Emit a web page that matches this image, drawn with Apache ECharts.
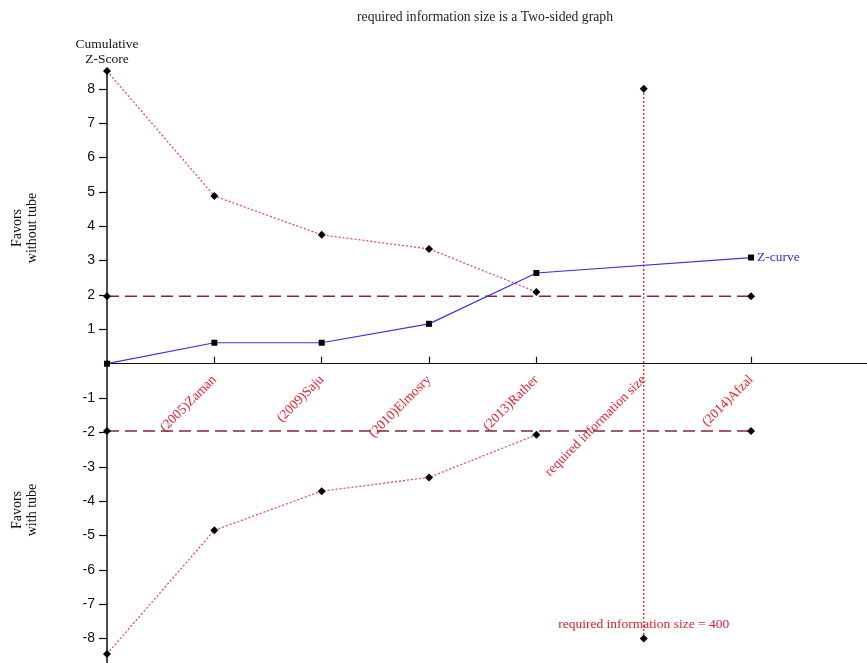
<!DOCTYPE html>
<html>
<head>
<meta charset="utf-8">
<title>Trial sequential analysis</title>
<script src="https://cdn.jsdelivr.net/npm/echarts@6/dist/echarts.min.js"></script>
<style>
  html, body { margin: 0; padding: 0; background: #fff; }
  #chart { width: 867px; height: 663px; }
</style>
</head>
<body>
<div id="chart"></div>
<script>
// Study labels along the x axis (position index 1..6)
const xLabels = ['(2005)Zaman', '(2009)Saju', '(2010)Elmosry', '(2013)Rather', 'required information size', '(2014)Afzal'];
const xLabelPos = [1, 2, 3, 4, 5, 6];
const xTickPos = [1, 2, 3, 4, 6];

// Cumulative Z-curve
const zPos = [0, 1, 2, 3, 4, 6];
const zCurve = [0, 0.61, 0.61, 1.16, 2.64, 3.09];

// Monitoring boundaries
const boundPos = [0, 1, 2, 3, 4];
const upperBound = [8.52, 4.88, 3.75, 3.34, 2.09];
const lowerBound = [-8.45, -4.85, -3.71, -3.31, -2.07];

// Conventional significance lines
const convPos = [0, 6];
const conventional = 1.96;

// Required information size
const risPos = 5;
const risZ = [8, -8];
const risValue = 400;

// Y tick labels
const yTicks = [-8, -7, -6, -5, -4, -3, -2, -1, 1, 2, 3, 4, 5, 6, 7, 8];

const yMin = -8.8, yMax = 8.52;
const gridTop = 71, gridHeight = 595;

const serif = '"Liberation Serif", "DejaVu Serif", serif';
const sans = '"Liberation Sans", Arial, sans-serif';

const pairs = (xs, ys) => xs.map((x, i) => [x, ys[i]]);

const zData = pairs(zPos, zCurve).map((p, i, arr) => i === arr.length - 1
  ? { value: p, label: { show: true, position: 'right', distance: 3, formatter: 'Z-curve', color: '#2f2fd6', fontFamily: serif, fontSize: 13.5 } }
  : p);

const risData = [
  [risPos, risZ[0]],
  { value: [risPos, risZ[1]], label: { show: true, position: 'top', distance: 3, formatter: 'required information size = ' + risValue, color: '#d8202a', fontFamily: serif, fontSize: 13.5 } }
];

// distance from the grid's bottom edge up to the zero line, so the x axis crosses at Z = 0
const zeroLift = gridHeight * (0 - yMin) / (yMax - yMin);

const chart = echarts.init(document.getElementById('chart'));
chart.setOption({
  animation: false,
  backgroundColor: '#fff',
  title: {
    text: 'required information size is a Two-sided graph',
    left: 352, top: 5,
    textStyle: { fontFamily: serif, fontSize: 13.7, fontWeight: 'normal', color: '#222' }
  },
  grid: { left: 107, top: gridTop, width: 760, height: gridHeight, containLabel: false, outerBoundsMode: 'none' },
  xAxis: {
    type: 'value', min: 0, max: 7.08,
    offset: -zeroLift,
    axisLine: { onZero: false, lineStyle: { color: '#111', width: 1.2 } },
    axisTick: { show: true, inside: true, length: 7, customValues: xTickPos, lineStyle: { color: '#111', width: 1.2 } },
    axisLabel: {
      customValues: xLabelPos,
      rotate: 45, margin: 14,
      color: '#e0202e', fontFamily: serif, fontSize: 13.5,
      formatter: v => xLabels[xLabelPos.indexOf(Math.round(v))] || ''
    },
    splitLine: { show: false }
  },
  yAxis: {
    type: 'value', min: yMin, max: yMax,
    name: 'Cumulative\nZ-Score', nameLocation: 'end', nameGap: 4,
    nameTextStyle: { fontFamily: serif, fontSize: 13.5, color: '#111', align: 'center', lineHeight: 15 },
    axisLine: { show: true, lineStyle: { color: '#111', width: 1.5 } },
    axisTick: { show: true, length: 8, customValues: yTicks, lineStyle: { color: '#111', width: 1.2 } },
    axisLabel: { customValues: yTicks, margin: 12, color: '#111', fontFamily: sans, fontSize: 14 },
    splitLine: { show: false }
  },
  graphic: [
    { type: 'text', x: 25, y: 228, rotation: Math.PI / 2,
      style: { text: 'Favors\nwithout tube', fontFamily: serif, fontSize: 14, fill: '#111', align: 'center', verticalAlign: 'middle', lineHeight: 15 } },
    { type: 'text', x: 25, y: 510, rotation: Math.PI / 2,
      style: { text: 'Favors\nwith tube', fontFamily: serif, fontSize: 14, fill: '#111', align: 'center', verticalAlign: 'middle', lineHeight: 15 } }
  ],
  series: [
    {
      name: 'Upper boundary', type: 'line', clip: false, z: 3,
      data: pairs(boundPos, upperBound),
      symbol: 'diamond', symbolSize: 8, itemStyle: { color: '#000' },
      lineStyle: { color: '#e84a62', width: 1.3, type: [2, 2] }
    },
    {
      name: 'Lower boundary', type: 'line', clip: false, z: 3,
      data: pairs(boundPos, lowerBound),
      symbol: 'diamond', symbolSize: 8, itemStyle: { color: '#000' },
      lineStyle: { color: '#e84a62', width: 1.3, type: [2, 2] }
    },
    {
      name: 'Conventional upper', type: 'line', clip: false, z: 2,
      data: convPos.map(x => [x, conventional]),
      symbol: 'diamond', symbolSize: 8, itemStyle: { color: '#000' },
      lineStyle: { color: '#8b2436', width: 1.5, type: [12, 6] }
    },
    {
      name: 'Conventional lower', type: 'line', clip: false, z: 2,
      data: convPos.map(x => [x, -conventional]),
      symbol: 'diamond', symbolSize: 8, itemStyle: { color: '#000' },
      lineStyle: { color: '#8b2436', width: 1.5, type: [12, 6] }
    },
    {
      name: 'Required information size', type: 'line', clip: false, z: 2,
      data: risData,
      symbol: 'diamond', symbolSize: 8, itemStyle: { color: '#000' },
      lineStyle: { color: '#d42028', width: 1.3, type: [2, 2] }
    },
    {
      name: 'Z-curve', type: 'line', clip: false, z: 5,
      data: zData,
      symbol: 'rect', symbolSize: 6, itemStyle: { color: '#000' },
      lineStyle: { color: '#3434d8', width: 1.2 }
    }
  ]
});
</script>
</body>
</html>
